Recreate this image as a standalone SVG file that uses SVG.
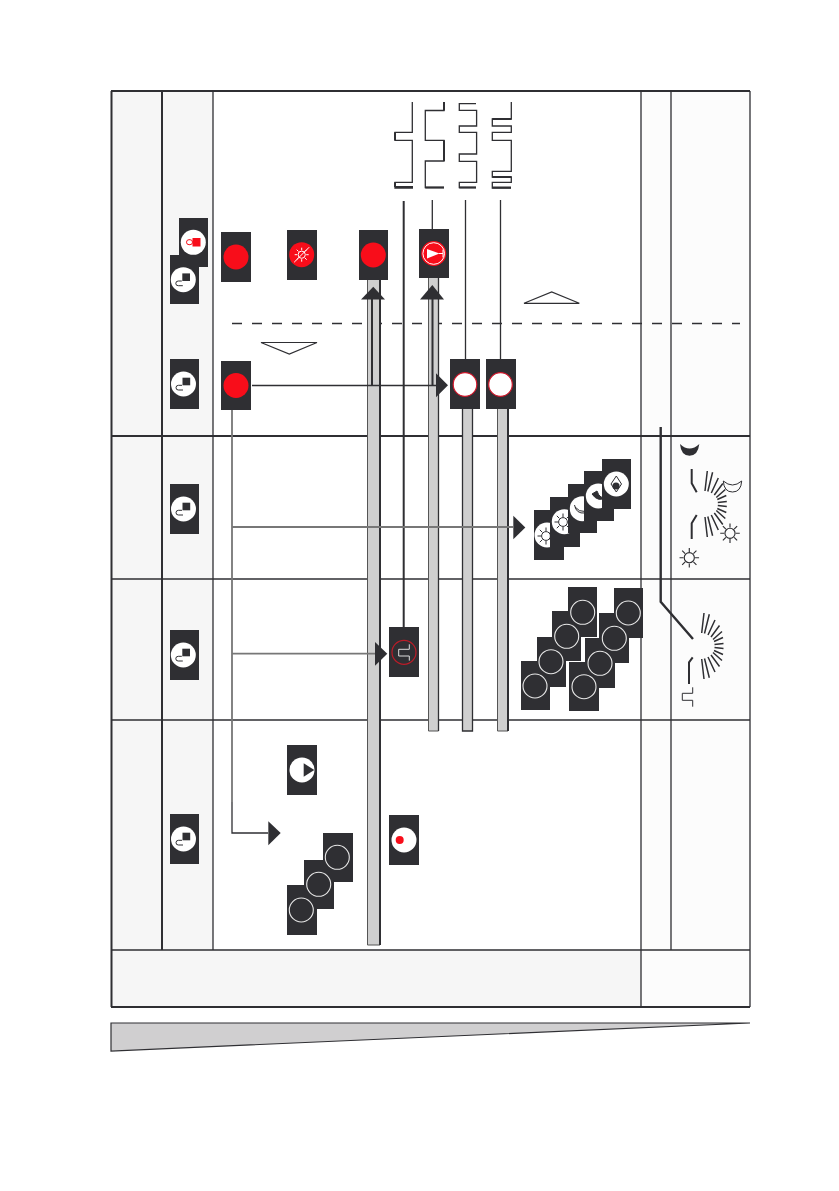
<svg xmlns="http://www.w3.org/2000/svg" xmlns:xlink="http://www.w3.org/1999/xlink" width="839" height="1191" viewBox="0 0 839 1191">
<style>
.box{fill:#2f2f33}
.wc{fill:#fff}
.red{fill:#f80d1a}
.ln{fill:none;stroke:#2f2f33;stroke-width:1.3}
.th{fill:none;stroke:#2f2f33;stroke-width:2}
.gl{fill:none;stroke:#777;stroke-width:1.8}
.tip{fill:#2f2f33}
.bar{fill:#cfcfcf}
.ring{fill:none;stroke:#e8e8e8;stroke-width:1.1}
.ray{fill:none;stroke:#2f2f33;stroke-width:1.5}
.s{fill:none;stroke:#2f2f33;stroke-width:1}
</style>
<defs>
<g id="win"><circle r="12.5" class="wc"/><rect x="-1" y="-6.3" width="7.7" height="7.6" fill="#2f2f33"/><path class="s" d="M-1.5 1.3H-5Q-7.5 1.3-7.5 3.7T-5 6H-.5"/></g>
<g id="sun"><circle r="4.4" fill="none" stroke="#2f2f33" stroke-width="1"/><path class="s" d="M0-5V-8.5M0 5V8.5M-5 0H-8.5M5 0H8.5M-3.6-3.6-6.2-6.2M3.6-3.6 6.2-6.2M-3.6 3.6-6.2 6.2M3.6 3.6 6.2 6.2"/></g>
<path id="rays" class="ray" d="M9-33 6.7-13M14.3-31.7 9.5-12.5M20-26 13-11M24.5-20.5 16-9M27-14.5 18-6.5M28-8.5 19-4.5M28.5-2.5 19.5-1.5M28.5 2.5 19.5 1.5M28 8.5 19 4.5M27 14.5 18 6.5M24.5 20.5 16 9M20 26 13 11M14.3 31.7 9.5 12.5M9 33 6.7 13"/>
</defs>
<rect width="839" height="1191" fill="#fff"/>
<g id="frame">
<rect x="111.5" y="91" width="101.5" height="859" fill="#f6f6f6"/>
<rect x="111.5" y="950" width="529.5" height="57" fill="#f6f6f6"/>
<rect x="641" y="91" width="109" height="916" fill="#fcfcfc"/>
<path class="th" d="M111 91H750M111 436H750M111 1007H750M111.5 91V1007M162 91V950"/>
<path class="ln" d="M213 91V950M641 91V1007M671 91V950M750 91V1007M111 579H750M111 720H750M111 950H750"/>
<polygon points="111,1023 750,1023 111,1051" fill="#d0cfd0" stroke="#2f2f33" stroke-width="1.2"/>
<line x1="232" y1="323.5" x2="740" y2="323.5" stroke="#2f2f33" stroke-width="1.3" stroke-dasharray="10 10"/>
<polygon points="261,342.5 317,342.5 289.3,354" fill="#fff" stroke="#2f2f33" stroke-width="1.2"/>
<polygon points="524,303.3 579.3,303.3 551.7,292" fill="#fff" stroke="#2f2f33" stroke-width="1.2"/>
</g>
<g id="bars">
<rect class="bar" x="367.5" y="280" width="12.5" height="665"/><path d="M367.5 280V945H380" fill="none" stroke="#555" stroke-width="1"/><path class="th" d="M380 280V945"/>
<rect class="bar" x="428.5" y="278" width="10" height="453"/><path d="M428.5 278V731H438.5" fill="none" stroke="#555" stroke-width="1"/><path class="ln" d="M438.5 278V731"/>
<rect class="bar" x="462.5" y="409" width="10" height="322"/><path class="ln" d="M462.5 409V731H472.5V409"/>
<rect class="bar" x="497.5" y="409" width="10.5" height="322"/><path d="M497.5 409V731H508" fill="none" stroke="#555" stroke-width="1"/><path class="th" d="M508 409V731"/>
</g>
<g id="connectors">
<path class="ln" d="M412.3 102V132.3H395V140.3H412.3V182.3H395V188H413"/>
<path class="th" d="M395 132.3V140.3M395 182.3V187M395 187H413"/>
<path class="ln" d="M444 102V110.5H425.3V140.3H444V161H425.3V187.5H444"/>
<path class="th" d="M444 102V110.5M444 140.3V161M425.3 187.5H444"/>
<path class="ln" d="M476 103.7H459.3V110.3H476.6V126H459.3V132.3H476.6V154H459.3V161.3H476.6V182.3H459.3V187.5H476"/>
<path class="th" d="M459.3 187.5H476"/>
<path class="ln" d="M511.3 102V119H492.3V126H511.3V132.3H492.3V140.3H511.3V171.3H492.3V177H511.3V182.3H492.3V188H511"/>
<path class="th" d="M492.3 119H511.3M492.3 177H511.3M492.3 187.5H511"/>
<path class="th" d="M403.7 201V627"/>
<path class="ln" d="M432.3 200V229M465.5 200V359M500.5 200V359"/>
<path class="th" d="M372 299V386M380 299V386M432.5 299V386"/>
<polygon class="tip" points="373.3,286.7 361,299.5 385,299.5"/>
<polygon class="tip" points="432.3,285 420,299.5 444,299.5"/>
<path class="ln" d="M252 385.5H437"/>
<polygon class="tip" points="436,373.3 436,397.3 448,385.3"/>
<path class="gl" d="M232 410V802M232 527H513M232 653.7H375"/>
<path class="ln" d="M232 802V833H268"/>
<polygon class="tip" points="513.3,515.7 513.3,539.3 525.3,527.5"/>
<polygon class="tip" points="375,642 375,665.7 387.3,653.7"/>
<polygon class="tip" points="268.3,821.3 268.3,845.3 280.7,833"/>
<path d="M660.7 427V601.7L693 639" fill="none" stroke="#2f2f33" stroke-width="2.4"/>
</g>
<g id="n-lock"><rect class="box" x="179" y="218" width="29" height="49"/><circle class="wc" cx="193.3" cy="242.3" r="12.5"/><rect class="red" x="192.5" y="238" width="8" height="8.5"/><rect x="186.5" y="239.7" width="6" height="5" rx="2.5" fill="none" stroke="#f80d1a" stroke-width="1"/></g>
<g id="n-win1"><rect class="box" x="170" y="255" width="29" height="49"/><use xlink:href="#win" href="#win" x="183.3" y="279.7"/></g>
<g id="n-red1"><rect class="box" x="221" y="232" width="30" height="50"/><circle class="red" cx="236" cy="257" r="12.5"/></g>
<g id="n-nosun"><rect class="box" x="287" y="230" width="30" height="50"/><circle class="red" cx="301.7" cy="254.7" r="12.5"/><g transform="translate(301.7 254.7)" fill="none" stroke="#fff" stroke-width="1"><circle r="3.6"/><path d="M0-4.5V-7M0 4.5V7M-4.5 0H-7M4.5 0H7M-3.2-3.2-5-5M3.2 3.2 5 5M3.2-3.2 5-5M-3.2 3.2-5 5"/><path d="M-7.5 7.5 7.5-7.5"/></g></g>
<g id="n-red2"><rect class="box" x="359" y="230" width="29" height="50"/><circle class="red" cx="373.3" cy="255" r="12.5"/></g>
<g id="n-horn"><rect class="box" x="419" y="229" width="30" height="49"/><circle class="red" cx="433.7" cy="253.5" r="12.5"/><circle cx="433.7" cy="253.5" r="10.8" fill="none" stroke="#fff" stroke-width="1"/><polygon points="427,249 427,258.5 439.5,253.5" fill="#fff"/><path d="M439 253.5H443M443 249.5V257.5" fill="none" stroke="#fff" stroke-width="1"/></g>
<g id="n-win2"><rect class="box" x="170" y="359" width="29" height="50"/><use xlink:href="#win" href="#win" x="183.5" y="384"/></g>
<g id="n-red3"><rect class="box" x="221" y="361" width="30" height="49"/><circle class="red" cx="236" cy="385.5" r="12.5"/></g>
<g id="n-w1"><rect class="box" x="450" y="359" width="30" height="50"/><circle cx="465" cy="384.5" r="11.8" fill="#fff" stroke="#d2182c" stroke-width="1.2"/></g>
<g id="n-w2"><rect class="box" x="486" y="359" width="30" height="50"/><circle cx="500.5" cy="384.5" r="11.8" fill="#fff" stroke="#d2182c" stroke-width="1.2"/></g>
<g id="n-win3"><rect class="box" x="170" y="484" width="29" height="50"/><use xlink:href="#win" href="#win" x="183.5" y="509"/></g>
<g id="n-win4"><rect class="box" x="170" y="630" width="29" height="50"/><use xlink:href="#win" href="#win" x="183.3" y="655"/></g>
<g id="n-win5"><rect class="box" x="170" y="814" width="29" height="50"/><use xlink:href="#win" href="#win" x="183.5" y="839"/></g>
<g id="n-stack-light">
<rect class="box" x="534" y="510" width="30" height="50"/><circle class="wc" cx="547" cy="535" r="12.5"/><use xlink:href="#sun" href="#sun" x="546" y="536"/>
<rect class="box" x="550" y="497" width="30" height="50"/><circle class="wc" cx="564.3" cy="521.7" r="12.5"/><use xlink:href="#sun" href="#sun" x="563" y="522"/>
<rect class="box" x="568" y="484" width="29" height="49"/><circle class="wc" cx="582.3" cy="508.7" r="12.5"/><path class="s" d="M574.5 505Q576 514 585 513"/><path class="s" d="M575 507Q579 512 585 511.5"/>
<rect class="box" x="584" y="471" width="30" height="50"/><circle class="wc" cx="598.3" cy="496" r="12.5"/><path d="M592 494Q598 503 607 497Q600 500 597 491Z" fill="#2f2f33" stroke="#2f2f33"/>
<rect class="box" x="602" y="459" width="29" height="50"/><circle class="wc" cx="616.3" cy="484" r="12.5"/><polygon points="616.3,476 621.5,484 616.3,492 611,484" fill="none" stroke="#2f2f33" stroke-width="1"/><circle cx="616" cy="486" r="3.6" fill="#2f2f33"/>
</g>
<g id="n-step"><rect class="box" x="389" y="627" width="30" height="50"/><circle cx="404" cy="652.3" r="12" fill="none" stroke="#bb1c28" stroke-width="1.2"/><path d="M409.3 644.3V649.3H398.7V656H409.3V660.6" fill="none" stroke="#ddd" stroke-width="1"/></g>
<g id="n-stack-a">
<rect class="box" x="521" y="661" width="29" height="49"/>
<rect class="box" x="537" y="637" width="29" height="50"/>
<rect class="box" x="552" y="611" width="29" height="50"/>
<rect class="box" x="568" y="587" width="29" height="50"/>
<circle class="ring" cx="535" cy="686" r="12"/>
<circle class="ring" cx="551" cy="661.7" r="12"/>
<circle class="ring" cx="566.7" cy="636.3" r="12"/>
<circle class="ring" cx="582.7" cy="612.3" r="12"/>
</g>
<g id="n-stack-b">
<rect class="box" x="569" y="662" width="30" height="49"/>
<rect class="box" x="585" y="638" width="30" height="50"/>
<rect class="box" x="599" y="613" width="30" height="50"/>
<rect class="box" x="614" y="588" width="29" height="50"/>
<circle class="ring" cx="584" cy="686.7" r="12"/>
<circle class="ring" cx="600" cy="663.3" r="12"/>
<circle class="ring" cx="614.3" cy="638.3" r="12"/>
<circle class="ring" cx="628.3" cy="613" r="12"/>
</g>
<g id="n-play"><rect class="box" x="287" y="745" width="30" height="50"/><circle class="wc" cx="302" cy="770" r="12.5"/><polygon class="tip" points="303.7,763.3 303.7,776.7 314.3,770"/></g>
<g id="n-dot"><rect class="box" x="389" y="815" width="30" height="50"/><circle class="wc" cx="404" cy="840" r="12.5"/><circle class="red" cx="399.7" cy="840" r="4"/></g>
<g id="n-stack-c">
<rect class="box" x="287" y="885" width="30" height="50"/>
<rect class="box" x="304" y="860" width="30" height="49"/>
<rect class="box" x="323" y="833" width="30" height="49"/>
<circle class="ring" cx="301.3" cy="910" r="12"/>
<circle class="ring" cx="318.7" cy="884.3" r="12"/>
<circle class="ring" cx="337.3" cy="857.3" r="12"/>
</g>
<g id="legend-light">
<path d="M680 444Q689.5 453 699.3 444Q698 455.7 689.5 455.7Q681 455.7 680 444Z" fill="#2f2f33"/>
<path class="th" d="M691.7 469V483.3L696.7 492.3M691.7 539V523.3L696.7 515"/>
<use xlink:href="#rays" href="#rays" transform="translate(698.3 504)"/>
<path class="s" d="M723.3 481Q732.5 489 741.7 481Q741 492 732.5 492Q724 492 723.3 481Z"/>
<use xlink:href="#sun" href="#sun" transform="translate(730 533.3) scale(1.15)"/>
<use xlink:href="#sun" href="#sun" transform="translate(689.3 557.7) scale(1.15)"/>
</g>
<g id="legend-beam">
<use xlink:href="#rays" href="#rays" transform="translate(695 646)"/>
<path class="th" d="M692.7 657.3 689 662.3V684"/>
<path class="s" d="M692.7 687.3V693.3H682.3V700.3H692.7V706.7"/>
</g>
</svg>
